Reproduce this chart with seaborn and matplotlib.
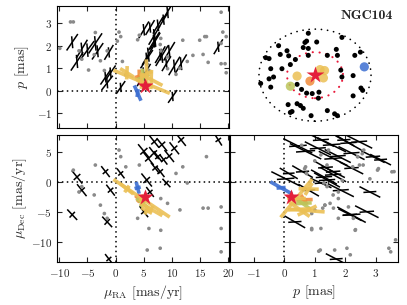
import numpy as np
import pandas as pd
import matplotlib
matplotlib.use("Agg")
import matplotlib.pyplot as plt
from matplotlib.patches import Circle
import seaborn as sns

# ---------------- data ----------------
# cluster mean (NGC104)
cl_pmra, cl_pmdec, cl_plx = 5.25, -2.53, 0.22

# field stars with full astrometry (black crosses)
fs_pmra  = [-7.7, -6.85, -6.0, -5.0, -3.6, -3.2, -1.8, -1.5, -0.9, 0.9, 5.5, 6.1, 7.9, 9.0, 5.0, -1.2,
            6.85, 10.4, 11.6, 18.2, 7.5, 5.0, 5.8, 6.8, 9.5, 9.2, 10.1, 8.5, 8.2, 7.0,
            22.5, 22.5, 22.5, 22.5, 22.5, 22.5]
fs_pmdec = [-5.5, 0.8, -1.4, 10.5, 11.0, 10.2, 1.7, -6.7, -1.4, 1.4, 0.3, -1.7, 1.7, -0.2, -5.0, -12.9,
            6.7, 5.6, 7.0, 7.0, 4.2, 5.1, 3.9, 4.8, 4.3, 10.0, 10.5, 3.7, 6.2, 2.3,
            6.5, 1.2, 2.4, -5.5, 6.0, 0.5]
fs_plx   = [2.15, 1.3, 1.85, 1.8, 2.1, 1.75, 0.6, 0.35, 0.8, 0.15, 1.4, 2.8, 1.6, 1.2, 2.7, 1.7,
            2.45, 1.1, 1.2, 1.95, 2.9, 0.7, 1.6, 2.2, 1.75, 3.5, -0.25, 3.15, 1.55, 2.2,
            2.1, 1.6, 1.35, 2.2, 0.45, 0.05]
fs_e_ra  = [1.0, 1.1, 1.0, 1.2, 1.2, 1.0, 0.9, 1.0, 0.9, 0.8, 1.1, 0.8, 0.9, 0.8, 0.9, 0.8,
            1.0, 1.0, 1.0, 0.8, 0.9, 1.2, 1.1, 1.0, 1.0, 1.0, 0.8, 0.8, 1.1, 0.9,
            1.0, 1.0, 1.0, 1.0, 1.1, 1.0]
fs_e_dec = [1.0, 1.2, 1.1, 1.2, 1.2, 1.0, 1.0, 1.0, 1.0, 0.9, 1.2, 0.9, 1.0, 0.8, 1.0, 0.9,
            1.1, 1.1, 1.1, 1.0, 1.0, 1.3, 1.2, 1.1, 1.1, 1.0, 0.8, 0.9, 1.2, 1.0,
            1.2, 1.2, 1.1, 1.3, 1.2, 1.2]
fs_e_plx = [0.45, 0.5, 0.5, 0.5, 0.55, 0.45, 0.4, 0.4, 0.4, 0.35, 0.5, 0.4, 0.45, 0.4, 0.45, 0.4,
            0.5, 0.5, 0.5, 0.4, 0.45, 0.6, 0.55, 0.5, 0.5, 0.5, 0.35, 0.4, 0.55, 0.45,
            0.5, 0.5, 0.45, 0.55, 0.55, 0.55]
rho_ra_dec, rho_ra_plx, rho_dec_plx = -0.55, 0.75, -0.8

# stars shown as grey dots
gr_pmra  = [-7.5, -3.6, -6.0, -6.5, -2.7, -2.0, -3.8, 0.6, 0.9, 1.8, 4.2, 11.9, 10.7, 12.7, 11.4, 5.9,
            8.0, 5.6, 7.9, 16.1, 15.5, 16.4, 18.7, 18.7, 18.7, 9.2, 8.0, 3.9, -1.5,
            -9.9, 13.7, 14.9, 15.8, 19.0, 19.6, 19.4, 19.6, 1.2, -4.8, 0.3, 9.2, -8.0,
            23, 23, 23, 23, 23, 23, 23, 23, 23, 23, 23, 23, 23, 23, 23,
            23, 23, 23, 23, 23, 23]
gr_pmdec = [1.95, 2.8, -0.8, -1.7, -3.9, -5.3, -2.2, 5.3, 4.2, 2.5, 2.8, 2.5, 1.4, -0.2, -4.7, -7.8,
            -8.1, -11.4, -11.1, 4.2, -4.4, -4.4, -4.2, -7.8, -11.7, -3.6, -2.8, -6.1, -6.1,
            11, 11, 11, 11, 11, 11, 11, 11, 11, 11, 11, 11, 11,
            6.1, 1.4, 4.5, 5.3, 4.7, 2.2, 1.67, 1.7, -9.7, -11.1, -11.6, -11.4, -12.2, -8.0, 2.2,
            -8.0, -3.9, 3.5, 2.8, 0.2, 0.5]
gr_plx   = [3.05, 2.58, 1.4, 1.77, 1.33, 0.9, 1.6, 2.6, 2.4, 0.7, 2.46, 2.24, 0.73, 1.3, 1.0, 0.9,
            2.32, 1.18, 2.05, 2.4, 1.61, 1.26, 2.1, 1.2, 3.48, 1.5, 1.77, 2.26, 1.77,
            1.88, 1.57, 2.24, 2.4, 2.6, 0.8, 1.2, 2.4, 1.3, 0.92, 2.2, 0.98, 3.05,
            0.57, 0.73, 1.2, 1.45, 2.55, 3.08, 3.52, 3.59, 3.64, 3.42, 1.13, 1.65, 2.16, 0.9, 0.67,
            2.33, 1.33, 1.0, 1.4, 1.9, 2.8]

# candidate members (coloured)
mb_color = ["#3d6fd2", "#f08c3c", "#bcc55a", "#ebc055", "#ebc055", "#ebc055", "#ebc055"]
mb_pmra  = [3.9, 4.2, 4.8, 4.6, 5.5, 6.3, 2.0]
mb_pmdec = [-1.0, -3.0, -3.6, -2.75, -4.8, -4.6, -1.2]
mb_plx   = [-0.1, 0.65, 0.6, 0.4, 0.75, 0.5, 0.8]
mb_e_ra  = [0.6, 0.8, 1.2, 5.0, 1.0, 2.0, 1.2]
mb_e_dec = [1.0, 0.8, 1.0, 3.2, 0.8, 1.2, 1.0]
mb_e_plx = [0.38, 0.3, 0.4, 0.6, 0.65, 0.5, 0.35]
mb_r_rd  = [-0.3, -0.5, -0.6, -0.97, -0.3, -0.8, -0.6]
mb_r_rp  = [-0.8, 0.2, 0.3, -0.85, 0.1, -0.5, -0.5]
mb_r_dp  = [-0.9, -0.3, -0.6, 0.85, 0.2, -0.6, 0.3]
mb_sky_x = [0.88, -0.09, -0.44, -0.32, 0.09, 0.15, 0.17]
mb_sky_y = [0.18, -0.13, -0.24, -0.02, 0.12, -0.06, 0.10]

# sky positions of field stars (in units of the search radius)
sky_x = [-0.12, -0.15, -0.18, -0.21, -0.12, 0.03, -0.12, -0.50, -0.62, -0.65, -0.88, -0.82, -0.47,
         -0.44, -0.59, -0.79, -0.74, -0.82, -0.97, -0.79, -0.32, -0.24, -0.15, -0.05, 0.07, 0.06,
         0.22, 0.38, 0.48, 0.71, 0.81, 0.46, 0.48, 0.68, 0.82, 0.85, 0.68, -0.48, -0.44, -0.41,
         -0.32, -0.26, -0.21, -0.07, 0.22, 0.35, 0.40, 0.40, -0.35]
sky_y = [0.91, 0.74, 0.71, 0.60, 0.58, 0.72, 0.43, 0.53, 0.45, 0.64, 0.38, 0.36, 0.42,
         0.23, 0.14, 0.14, -0.04, -0.08, -0.18, -0.26, -0.20, -0.31, -0.39, -0.40, -0.37, -0.50,
         0.43, 0.56, 0.82, 0.43, 0.50, 0.11, -0.04, -0.01, -0.28, -0.33, -0.45, -0.64, -0.81, -0.79,
         -0.62, -0.66, -0.72, -0.88, -0.77, -0.84, -0.88, 0.43, 0.34]
r_outer, r_inner = 1.0, 0.5

# ---------------- style ----------------
sns.set_style("ticks", rc={
    "xtick.direction": "in", "ytick.direction": "in",
    "xtick.top": True, "ytick.right": True,
    "axes.edgecolor": "black", "axes.linewidth": 1.2,
    "xtick.major.size": 3.0, "ytick.major.size": 3.0,
    "xtick.major.width": 0.7, "ytick.major.width": 0.7,
})
plt.rcParams["font.family"] = "serif"
plt.rcParams["font.serif"] = ["cmr10"]
plt.rcParams["mathtext.fontset"] = "cm"
plt.rcParams["axes.formatter.use_mathtext"] = True
plt.rcParams["axes.unicode_minus"] = True

fig = plt.figure(figsize=(4.07, 3.05), dpi=100)
ax_tl = fig.add_axes([0.140, 0.580, 0.4227, 0.400])
ax_bl = fig.add_axes([0.140, 0.141, 0.4227, 0.416])
ax_br = fig.add_axes([0.565, 0.141, 0.413, 0.416])
ax_sky = fig.add_axes([0.565, 0.580, 0.413, 0.400])

df_f = pd.DataFrame(dict(pmra=fs_pmra, pmdec=fs_pmdec, plx=fs_plx,
                         e_pmra=fs_e_ra, e_pmdec=fs_e_dec, e_plx=fs_e_plx))
df_g = pd.DataFrame(dict(pmra=gr_pmra, pmdec=gr_pmdec, plx=gr_plx))
df_m = pd.DataFrame(dict(pmra=mb_pmra, pmdec=mb_pmdec, plx=mb_plx, e_pmra=mb_e_ra,
                         e_pmdec=mb_e_dec, e_plx=mb_e_plx, r_rd=mb_r_rd, r_rp=mb_r_rp,
                         r_dp=mb_r_dp, color=mb_color))


def cross(ax, x, y, sx, sy, rho, color, lw, alpha=1.0, z=2):
    cov = np.array([[sx * sx, rho * sx * sy], [rho * sx * sy, sy * sy]])
    w, v = np.linalg.eigh(cov)
    for i in range(2):
        d = np.sqrt(max(w[i], 0.0)) * v[:, i]
        ax.plot([x - d[0], x + d[0]], [y - d[1], y + d[1]], color=color, lw=lw,
                alpha=alpha, solid_capstyle="butt", zorder=z)


panels = [(ax_tl, "pmra", "plx", "e_pmra", "e_plx", rho_ra_plx, "r_rp"),
          (ax_bl, "pmra", "pmdec", "e_pmra", "e_pmdec", rho_ra_dec, "r_rd"),
          (ax_br, "plx", "pmdec", "e_plx", "e_pmdec", rho_dec_plx, "r_dp")]

for ax, xc, yc, ex, ey, rho, rkey in panels:
    for _, s in df_f.iterrows():
        cross(ax, s[xc], s[yc], s[ex], s[ey], rho, "black", 1.1, z=2)
    sns.scatterplot(data=df_g, x=xc, y=yc, ax=ax, color="#8a8a8a", s=7,
                    edgecolor="none", zorder=3, legend=False)
    for _, s in df_m.iterrows():
        cross(ax, s[xc], s[yc], s[ex], s[ey], s[rkey], s["color"], 2.6, alpha=0.9, z=4)
    cx = {"pmra": cl_pmra, "pmdec": cl_pmdec, "plx": cl_plx}
    ax.plot(cx[xc], cx[yc], marker="*", ms=12, color="#e41f3a", mec="none", zorder=6)
    ax.axvline(0, color="black", ls=(0, (1, 2.2)), lw=1.1, zorder=1)
    ax.axhline(0, color="black", ls=(0, (1, 2.2)), lw=1.1, zorder=1)
    ax.set_xlabel("")
    ax.set_ylabel("")
    ax.tick_params(labelsize=8)

ax_tl.set_xlim(-10.4, 20.1)
ax_bl.set_xlim(-10.4, 20.1)
ax_tl.set_ylim(-1.65, 3.75)
ax_bl.set_ylim(-13.4, 7.8)
ax_br.set_ylim(-13.4, 7.8)
ax_br.set_xlim(-1.77, 3.72)
ax_tl.set_xticks([-10, -5, 0, 5, 10, 15, 20])
ax_bl.set_xticks([-10, -5, 0, 5, 10, 15, 20])
ax_tl.set_yticks([-1, 0, 1, 2, 3])
ax_bl.set_yticks([-10, -5, 0, 5])
ax_br.set_yticks([-10, -5, 0, 5])
ax_br.set_xticks([-1, 0, 1, 2, 3])
ax_tl.tick_params(labelbottom=False)
ax_br.tick_params(labelleft=False)

ax_tl.set_ylabel(r"$p$ [mas]", fontsize=10, labelpad=4)
ax_bl.set_ylabel(r"$\mu_{\rm Dec}$ [mas/yr]", fontsize=10, labelpad=1)
ax_bl.set_xlabel(r"$\mu_{\rm RA}$ [mas/yr]", fontsize=10, labelpad=3)
ax_br.set_xlabel(r"$p$ [mas]", fontsize=10, labelpad=3)

# sky panel
ax_sky.set_axis_off()
ax_sky.set_xlim(-1.518, 1.482)
ax_sky.set_ylim(-1.15, 1.5)
ax_sky.add_patch(Circle((0, 0), r_outer, fill=False, ec="black", lw=1.2,
                        ls=(0, (0.1, 3.6)), capstyle="round", zorder=1))
ax_sky.add_patch(Circle((0, 0), r_inner, fill=False, ec="#e8193a", lw=1.5,
                        ls=(0, (0.1, 3.2)), capstyle="round", zorder=1))
sns.scatterplot(x=sky_x, y=sky_y, ax=ax_sky, color="black", s=13, edgecolor="none",
                zorder=2, legend=False)
for xs, ys, c in zip(mb_sky_x, mb_sky_y, mb_color):
    ax_sky.scatter([xs], [ys], s=44, color=c, alpha=0.85, edgecolors="none", zorder=3)
ax_sky.plot(0, 0.01, marker="*", ms=13, color="#e41f3a", mec="none", zorder=5)
ax_sky.text(0.97, 0.915, "NGC104", transform=ax_sky.transAxes, ha="right", va="center",
            fontsize=10, family="cmb10")

fig.savefig("out.png", dpi=100)
